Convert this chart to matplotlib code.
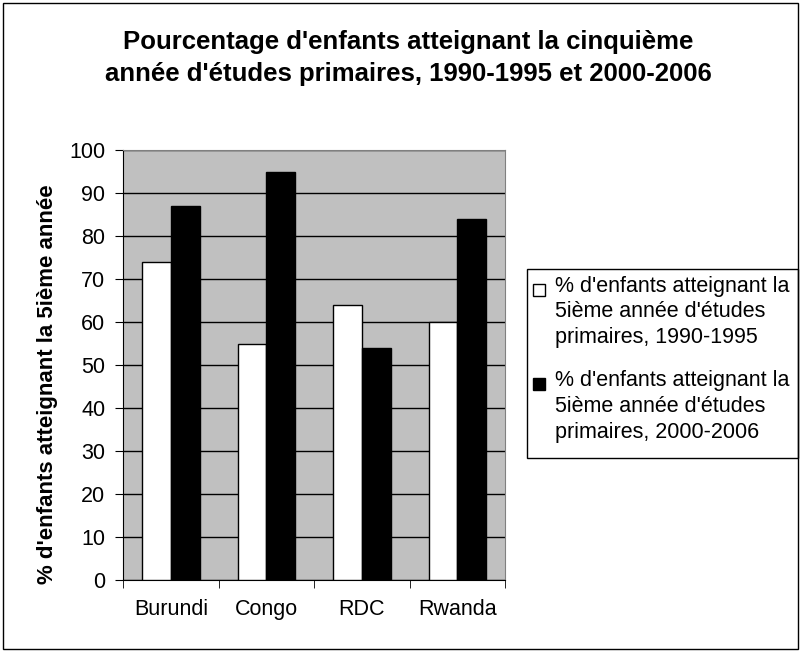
import matplotlib.pyplot as plt
import matplotlib.patches as mpatches
import numpy as np

plt.rcParams['font.family'] = ['Liberation Sans', 'DejaVu Sans']

pays = ["Burundi", "Congo", "RDC", "Rwanda"]
p_1990_1995 = [74, 55, 64, 60]
p_2000_2006 = [87, 95, 54, 84]
lbl_1 = "% d'enfants atteignant la\n5ième année d'études\nprimaires, 1990-1995"
lbl_2 = "% d'enfants atteignant la\n5ième année d'études\nprimaires, 2000-2006"

W, H = 800, 652
fig = plt.figure(figsize=(W / 100, H / 100), dpi=100)
ax = fig.add_axes([0.154, 0.1104, 0.4775, 0.6595])

x = np.arange(len(pays))
w = 0.3
ax.bar(x - w / 2, p_1990_1995, w, color="white", edgecolor="black", linewidth=1, zorder=3)
ax.bar(x + w / 2, p_2000_2006, w, color="black", edgecolor="black", linewidth=1, zorder=3)

ax.set_facecolor("#c0c0c0")
ax.set_xlim(-0.5, len(pays) - 0.5)
ax.set_ylim(0, 100)
ax.set_yticks(range(0, 101, 10))
ax.yaxis.grid(True, color="black", linewidth=1, zorder=1)
ax.set_xticks(x)
ax.set_xticklabels(pays, fontsize=15.5)
ax.set_xticks(np.arange(-0.5, len(pays), 1), minor=True)
ax.tick_params(axis="x", which="major", length=0, pad=14)
ax.tick_params(axis="x", which="minor", length=6, direction="out")
ax.tick_params(axis="y", length=6, direction="out", labelsize=15.5, pad=7)
for s in ["top", "right"]:
    ax.spines[s].set_color("#808080")

# y label, placed like the original (a bit below the axis centre)
fig.text(48 / W, 1 - 384 / H, "% d'enfants atteignant la 5ième année", rotation=90,
         ha="center", va="center", fontsize=16, fontweight="bold")

fig.text(408 / W, 1 - 58 / H, "Pourcentage d'enfants atteignant la cinquième\nannée d'études primaires, 1990-1995 et 2000-2006",
         ha="center", va="center", fontsize=18.5, fontweight="bold", linespacing=1.45)

# legend drawn by hand so the square sits on the first line of each entry
fig.patches.append(mpatches.Rectangle((527 / W, 1 - 458 / H), 271 / W, 189 / H, transform=fig.transFigure,
                                      facecolor="white", edgecolor="black", linewidth=1))
for y0, lbl, col in [(289.5, lbl_1, "white"), (384.3, lbl_2, "black")]:
    fig.patches.append(mpatches.Rectangle((533 / W, 1 - (y0 + 6) / H), 12 / W, 12 / H, transform=fig.transFigure,
                                          facecolor=col, edgecolor="black", linewidth=1))
    fig.text(555 / W, 1 - (y0 - 14) / H, lbl, ha="left", va="top", fontsize=15.5, linespacing=1.3)

fig.patches.append(mpatches.Rectangle((0.004, 0.004), 0.993, 0.992, transform=fig.transFigure,
                                      fill=False, edgecolor="black", linewidth=1))

fig.savefig("out.png", dpi=100)
